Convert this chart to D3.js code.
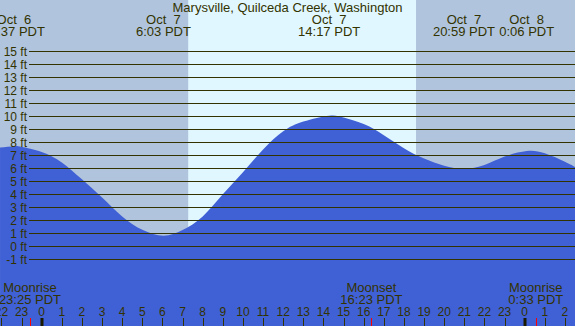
<!DOCTYPE html>
<html>
<head>
<meta charset="utf-8">
<script src="https://cdn.jsdelivr.net/npm/d3@7"></script>
<style>
  html, body { margin: 0; padding: 0; background: #b0c4de; }
  svg { display: block; }
  text { font-family: "Liberation Sans", Arial, sans-serif; fill: #333300; }
</style>
</head>
<body>
<div id="chart"></div>
<script>
// ---------------------------
// DATA (hours since Oct 7 00:00 PDT, height in ft)
// ---------------------------
const tideHours = [-2.07, -1.4, -1, 0, 1, 2, 3, 4, 5, 6.05, 7, 8, 9, 10, 11, 12, 13, 14.28,
  15, 16, 17, 18, 19, 20, 21, 22, 23, 24.1, 25, 26, 26.5];
const tideFeet = [7.6, 7.7, 7.65, 7.25, 6.45, 5.15, 3.75, 2.3, 1.27, 0.82, 1.25, 2.3, 4.0, 5.7,
  7.45, 8.85, 9.6, 10.05, 9.9, 9.4, 8.55, 7.55, 6.75, 6.2, 5.95, 6.25, 6.9, 7.33, 7.15, 6.5, 6.1];

const extremeHours = [-1.383, 6.05, 14.283, 20.983, 24.1];
const extremeDates = ["Oct  6", "Oct  7", "Oct  7", "Oct  7", "Oct  8"];
const extremeLabels = ["22:37 PDT", "6:03 PDT", "14:17 PDT", "20:59 PDT", "0:06 PDT"];

const sunrise = 7.28, sunset = 18.6;

const moonHours = [-0.583, 16.383, 24.55];
const moonEvents = ["Moonrise", "Moonset", "Moonrise"];
const moonLabels = ["23:25 PDT", "16:23 PDT", "0:33 PDT"];

const feetTicks = d3.range(-1, 16);
const hourTicks = d3.range(-2, 27);
const midnights = [0, 24];

// ---------------------------
// LAYOUT
// ---------------------------
const width = 575, height = 326;
const title = "Marysville, Quilceda Creek, Washington";

const x = d3.scaleLinear().domain([0, 24]).range([41.7, 524.7]);
const y = d3.scaleLinear().domain([-1, 15]).range([259.3, 51.3]);

const svg = d3.select("#chart").append("svg")
  .attr("width", width)
  .attr("height", height);

// night background + day band
svg.append("rect")
  .attr("width", width).attr("height", height)
  .attr("fill", "#b0c4de");

svg.append("rect")
  .attr("x", x(sunrise))
  .attr("width", x(sunset) - x(sunrise))
  .attr("height", height)
  .attr("fill", "#e0f7ff");

// tide area
const area = d3.area()
  .x((d, i) => x(tideHours[i]))
  .y0(height)
  .y1(d => y(d))
  .curve(d3.curveNatural);

svg.append("path")
  .datum(tideFeet)
  .attr("d", area)
  .attr("fill", "#4060d6");

// grid lines (over the water)
svg.append("g")
  .selectAll("line")
  .data(feetTicks)
  .join("line")
  .attr("x1", 29).attr("x2", width)
  .attr("y1", d => Math.round(y(d)) + 0.5)
  .attr("y2", d => Math.round(y(d)) + 0.5)
  .attr("stroke", "#333300")
  .attr("stroke-width", 1);

svg.append("g")
  .selectAll("text")
  .data(feetTicks)
  .join("text")
  .attr("x", 27)
  .attr("y", d => y(d) + 4.5)
  .attr("text-anchor", "end")
  .style("font-size", "12px")
  .text(d => `${d} ft`);

// title and high/low labels
svg.append("text")
  .attr("x", width / 2)
  .attr("y", 12)
  .attr("text-anchor", "middle")
  .style("font-size", "13px")
  .text(title);

const ext = svg.append("g").selectAll("g")
  .data(extremeHours)
  .join("g")
  .attr("transform", d => `translate(${x(d)},0)`);

ext.append("text")
  .attr("y", 24)
  .attr("text-anchor", "middle")
  .style("font-size", "13px")
  .style("white-space", "pre")
  .text((d, i) => extremeDates[i]);

ext.append("text")
  .attr("y", 36)
  .attr("text-anchor", "middle")
  .style("font-size", "13px")
  .text((d, i) => extremeLabels[i]);

// moon labels
const moon = svg.append("g").selectAll("g")
  .data(moonHours)
  .join("g")
  .attr("transform", d => `translate(${x(d)},0)`);

moon.append("text")
  .attr("y", 292)
  .attr("text-anchor", "middle")
  .style("font-size", "13px")
  .text((d, i) => moonEvents[i]);

moon.append("text")
  .attr("y", 304)
  .attr("text-anchor", "middle")
  .style("font-size", "13px")
  .text((d, i) => moonLabels[i]);

// hour axis
svg.append("g")
  .selectAll("text")
  .data(hourTicks)
  .join("text")
  .attr("x", d => x(d))
  .attr("y", 316)
  .attr("text-anchor", "middle")
  .style("font-size", "12px")
  .text(d => ((d % 24) + 24) % 24);

svg.append("g")
  .selectAll("line")
  .data(hourTicks.filter(d => !midnights.includes(d)))
  .join("line")
  .attr("x1", d => Math.round(x(d)) + 0.5)
  .attr("x2", d => Math.round(x(d)) + 0.5)
  .attr("y1", 318).attr("y2", height)
  .attr("stroke", "#333300");

svg.append("g")
  .selectAll("rect")
  .data(midnights)
  .join("rect")
  .attr("x", d => Math.round(x(d)) - 1.5)
  .attr("y", 318)
  .attr("width", 3)
  .attr("height", height - 318)
  .attr("fill", "#1a1a00");

svg.append("g")
  .selectAll("line")
  .data(moonHours)
  .join("line")
  .attr("x1", d => Math.round(x(d)) + 0.5)
  .attr("x2", d => Math.round(x(d)) + 0.5)
  .attr("y1", 318).attr("y2", height)
  .attr("stroke", "red");
</script>
</body>
</html>
